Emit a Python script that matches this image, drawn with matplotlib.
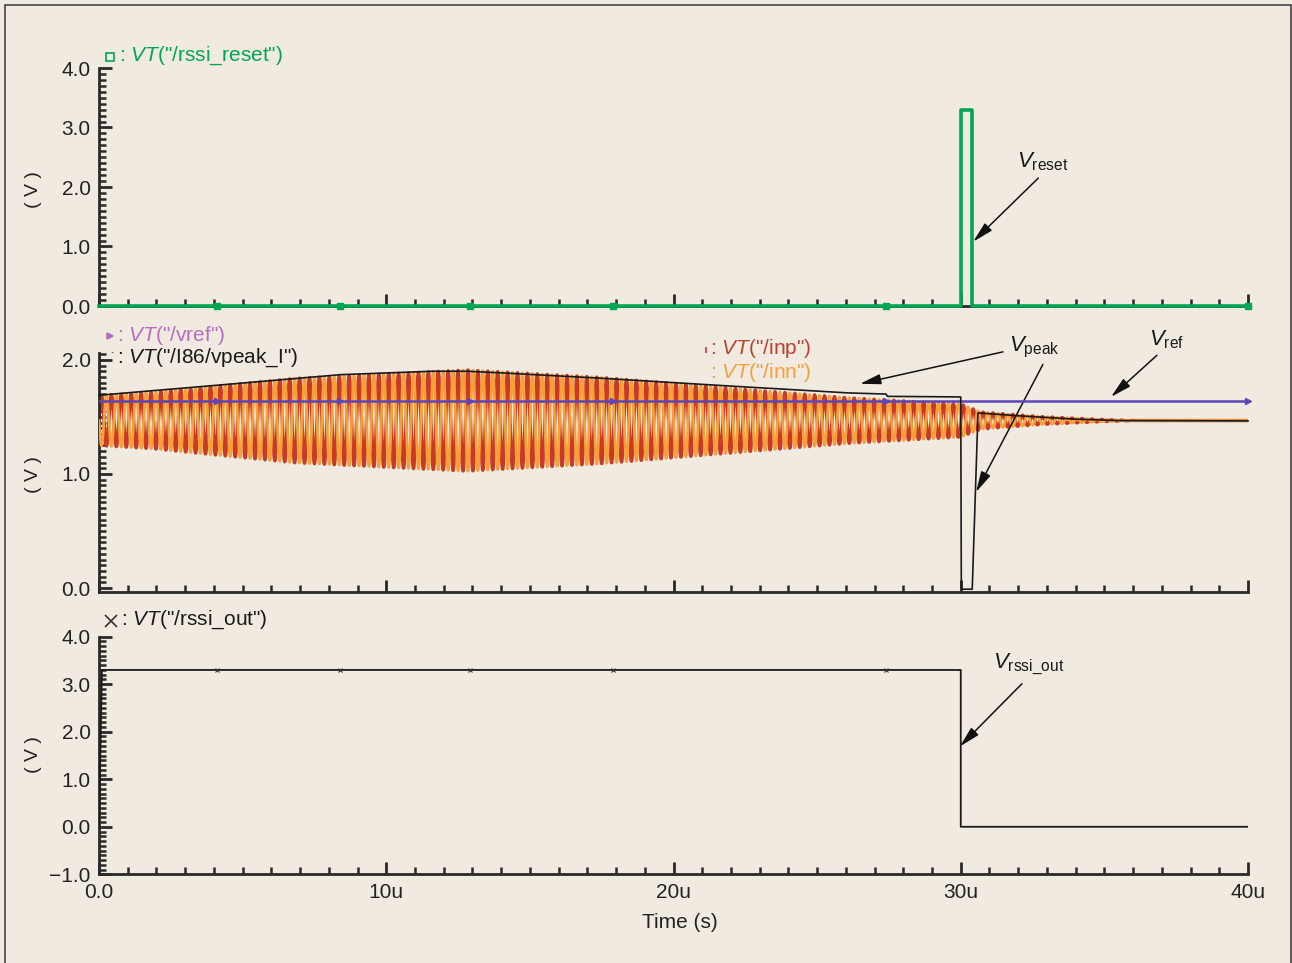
import numpy as np
import matplotlib
matplotlib.use('Agg')
import matplotlib.pyplot as plt
from matplotlib.ticker import MultipleLocator, FixedLocator, FuncFormatter
from matplotlib.patches import Rectangle

plt.rcParams['font.family'] = ['Liberation Sans', 'DejaVu Sans']
plt.rcParams['mathtext.fontset'] = 'custom'
plt.rcParams['mathtext.rm'] = 'Liberation Sans'
plt.rcParams['mathtext.it'] = 'Liberation Sans:italic'
plt.rcParams['axes.unicode_minus'] = True

BG = '#F1EAE0'

# ---------------- data (time in microseconds, values in volts) ----------------
reset_t = [0, 30.0, 30.0, 30.4, 30.4, 40.0]
reset_v = [0, 0, 3.3, 3.3, 0, 0]
reset_mark_t = [4.1, 8.4, 12.9, 17.9, 27.4, 40.0]

vref_t = [0, 40.0]
vref_v = [1.643, 1.643]
vref_mark_t = [4.1, 8.4, 12.9, 17.9, 27.4, 40.0]

vpeak_t = [0, 4.7, 8.4, 11.6, 12.8, 14.0, 17.4, 22.0, 26.1, 27.4, 27.45, 30.0, 30.02,
           30.4, 30.6, 32.0, 34.0, 35.5, 40.0]
vpeak_v = [1.69, 1.79, 1.87, 1.90, 1.90, 1.886, 1.84, 1.77, 1.71, 1.70, 1.68, 1.675, -0.01,
           -0.01, 1.535, 1.51, 1.48, 1.468, 1.465]

# differential input pair: common level, carrier frequency and envelope
in_center = 1.468
in_freq_mhz = 2.9
env_t = [0, 1.8, 6.8, 12.8, 17.4, 26.1, 30.0, 30.7, 32.8, 34.9, 36.0, 40.0]
env_amp = [0.22, 0.246, 0.37, 0.444, 0.38, 0.20, 0.145, 0.075, 0.035, 0.01, 0.0, 0.0]

rssi_t = [0, 0.1, 30.0, 30.0, 40.0]
rssi_v = [0, 3.3, 3.3, 0.0, 0.0]
rssi_mark_t = [4.1, 8.4, 12.9, 17.9, 27.4]

x_ticks = [0, 10, 20, 30, 40]
x_ticklabels = ['0.0', '10u', '20u', '30u', '40u']

# ---------------- figure ----------------
W, H = 1292, 963
fig = plt.figure(figsize=(W / 100, H / 100), dpi=100, facecolor=BG)

def px(x, y):
    return x / W, 1 - y / H

L, AW = 99 / W, 1149 / W
ax1 = fig.add_axes([L, (H - 306) / H, AW, 238 / H])
ax2 = fig.add_axes([L, (H - 591.7) / H, AW, (591.7 - 353) / H])
ax3 = fig.add_axes([L, (H - 874.3) / H, AW, (874.3 - 636.7) / H])

SPC = '#2a2a2a'
for ax in (ax1, ax2, ax3):
    ax.set_facecolor(BG)
    for s in ('top', 'right'):
        ax.spines[s].set_visible(False)
    for s in ('left', 'bottom'):
        ax.spines[s].set_linewidth(2)
        ax.spines[s].set_color(SPC)
    ax.set_xlim(0, 40)
    ax.xaxis.set_major_locator(FixedLocator(x_ticks))
    ax.xaxis.set_minor_locator(MultipleLocator(1))
    ax.tick_params(axis='both', which='major', direction='in', length=9, width=2, color=SPC,
                   labelsize=15, labelcolor='#222222', pad=6)
    ax.tick_params(axis='both', which='minor', direction='in', length=5, width=1.8, color=SPC)
    ax.yaxis.set_major_formatter(FuncFormatter(lambda v, p: ('%.1f' % v).replace('-', '\u2212')))

for ax in (ax1, ax2):
    ax.set_xticklabels([])
ax3.set_xticklabels(x_ticklabels)

ax1.set_ylim(0, 4)
ax1.yaxis.set_major_locator(MultipleLocator(1))
ax1.yaxis.set_minor_locator(MultipleLocator(0.1))
ax2.set_ylim(-0.032, 2.06)
ax2.yaxis.set_major_locator(FixedLocator([0, 1, 2]))
ax2.yaxis.set_minor_locator(MultipleLocator(0.05))
ax3.set_ylim(-1, 4)
ax3.yaxis.set_major_locator(MultipleLocator(1))
ax3.yaxis.set_minor_locator(MultipleLocator(0.1))

GREEN = '#00A651'
PURPLE_LINE = '#5B45B8'
PURPLE_TXT = '#B86DC0'
RED = '#C83A26'
ORANGE = '#F5A03A'

# top panel
ax1.plot(reset_t, reset_v, color=GREEN, lw=2.6, zorder=5, clip_on=False)
ax1.plot(reset_mark_t, [0] * len(reset_mark_t), ls='none', marker='s', ms=5, color=GREEN,
         zorder=6, clip_on=False)

# middle panel
t = np.linspace(0, 40, 14000)
amp = np.interp(t, env_t, env_amp)
ph = np.sin(2 * np.pi * in_freq_mhz * t)
inp = in_center + amp * ph
inn = in_center - amp * ph
ax2.plot(t, inp, color=RED, lw=2.4, zorder=2)
ax2.plot(t, inn, color=ORANGE, lw=2.0, zorder=3)
ax2.plot(vref_t, vref_v, color=PURPLE_LINE, lw=1.8, zorder=5)
ax2.plot(vref_mark_t, [vref_v[0]] * len(vref_mark_t), ls='none', marker='>', ms=4,
         color=PURPLE_LINE, zorder=6, clip_on=False)
ax2.plot(vpeak_t, vpeak_v, color='#1a1a1a', lw=1.2, zorder=6, clip_on=False)

# bottom panel
ax3.plot(rssi_t, rssi_v, color='#1a1a1a', lw=1.3, zorder=5)
ax3.plot(rssi_mark_t, [3.3] * len(rssi_mark_t), ls='none', marker='x', ms=3, mew=0.8,
         color='#333333', zorder=6)

# y labels
for yc in (190, 475, 755):
    fig.text(*px(33, yc), '( V )', rotation=90, ha='center', va='center', fontsize=14,
             color='#222222')
fig.text(*px(680, 922), 'Time (s)', ha='center', va='center', fontsize=15, color='#222222')

# legends
LF = 15
def legend_entry(mx, my, marker, mcolor, tx, ty, label, tcolor, mfc=None, ms=6):
    ax1.plot([mx / W], [1 - my / H], transform=fig.transFigure, ls='none', marker=marker,
             ms=ms, color=mcolor, mfc=mfc if mfc is not None else mcolor, mew=1.2, clip_on=False,
             zorder=10)
    fig.text(*px(tx, ty), ': $\\mathit{VT}$(' + label + ')', ha='left', va='center',
             fontsize=LF, color=tcolor)

legend_entry(110, 57, 's', GREEN, 119, 56, '"/rssi_reset"', GREEN, mfc='none', ms=6)
legend_entry(110, 336, '>', PURPLE_TXT, 117, 335, '"/vref"', PURPLE_TXT, ms=4)
legend_entry(110, 356, '<', '#111111', 117, 358, '"/I86/vpeak_I"', '#1a1a1a', ms=4)
legend_entry(706, 351, '|', RED, 710, 349, '"/inp"', '#B8432F', ms=6)
legend_entry(708, 372, 'v', ORANGE, 710, 373, '"/inn"', ORANGE, ms=5)
legend_entry(111, 621, 'x', '#333333', 121, 620, '"/rssi_out"', '#1a1a1a', ms=8)

# annotations
AP = dict(arrowstyle='-|>,head_length=0.9,head_width=0.22', color='#111111', lw=1.1,
          mutation_scale=14, shrinkA=0, shrinkB=0)
TF = 16

ax1.annotate('', xy=(30.43, 1.08), xytext=(32.7, 2.15), arrowprops=AP, annotation_clip=False)
ax1.text(31.96, 2.42, r'$V_{\mathrm{reset}}$', fontsize=TF, ha='left', va='center', color='#1a1a1a')

ax2.annotate('', xy=(26.49, 1.79), xytext=(31.47, 2.07), arrowprops=AP, annotation_clip=False)
ax2.annotate('', xy=(30.53, 0.84), xytext=(32.86, 1.96), arrowprops=AP, annotation_clip=False)
ax2.text(31.68, 2.11, r'$V_{\mathrm{peak}}$', fontsize=TF, ha='left', va='center',
         color='#1a1a1a', clip_on=False)
ax2.annotate('', xy=(35.23, 1.675), xytext=(36.83, 2.04), arrowprops=AP, annotation_clip=False)
ax2.text(36.55, 2.175, r'$V_{\mathrm{ref}}$', fontsize=TF, ha='left', va='center',
         color='#1a1a1a', clip_on=False)

ax3.annotate('', xy=(29.97, 1.69), xytext=(32.13, 3.01), arrowprops=AP, annotation_clip=False)
ax3.text(31.12, 3.41, r'$V_{\mathrm{rssi\_out}}$', fontsize=TF, ha='left', va='center',
         color='#1a1a1a')

# outer frame
fig.add_artist(Rectangle((4.5 / W, -0.01), (1290.5 - 4.5) / W, 1.01 - 5 / H,
                         transform=fig.transFigure, fill=False, lw=1.2, ec='#444444'))

fig.savefig('out.png', dpi=100, facecolor=BG)
